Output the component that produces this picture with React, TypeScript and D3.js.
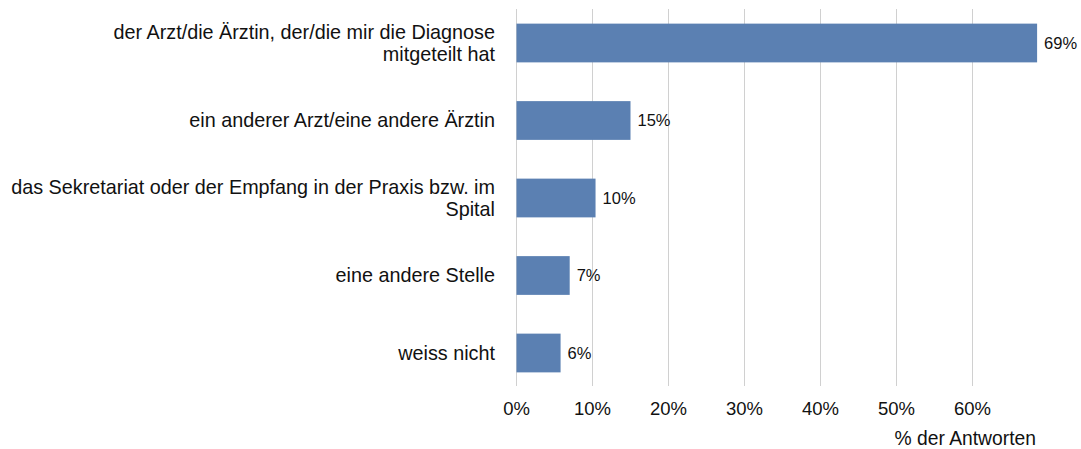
import * as d3 from "d3";
import {useEffect, useRef} from "react";

const categories = [
    "der Arzt/die Ärztin, der/die mir die Diagnose\nmitgeteilt hat",
    "ein anderer Arzt/eine andere Ärztin",
    "das Sekretariat oder der Empfang in der Praxis bzw. im\nSpital",
    "eine andere Stelle",
    "weiss nicht"
]
const values = [68.5, 15, 10.4, 7, 5.8]
const valueLabels = ["69%", "15%", "10%", "7%", "6%"]
const ticks = [0, 10, 20, 30, 40, 50, 60]
const axisTitle = "% der Antworten"

const W = 1081
const H = 449

const App = () => {
    const ref = useRef<SVGSVGElement>(null)

    useEffect(() => {
        const svg = d3.select(ref.current)
        svg.selectAll("*").remove()

        const x = d3.scaleLinear().domain([0, 60]).range([516.5, 972.5])
        const y = d3.scaleBand().domain(categories).range([4.25, 391.75]).paddingInner(0.5).paddingOuter(0.25)

        const font = "Arial, 'Liberation Sans', sans-serif"

        // grid
        svg.append("g")
            .selectAll("line")
            .data(ticks)
            .enter()
            .append("line")
            .attr("x1", d => x(d))
            .attr("x2", d => x(d))
            .attr("y1", 9)
            .attr("y2", 386)
            .attr("stroke", "#d0d0d0")
            .attr("stroke-width", 1)

        // bars
        svg.append("g")
            .selectAll("rect")
            .data(values)
            .enter()
            .append("rect")
            .attr("x", x(0))
            .attr("y", (d, i) => y(categories[i]))
            .attr("width", d => x(d) - x(0))
            .attr("height", y.bandwidth())
            .attr("fill", "#5b80b2")

        // value labels
        svg.append("g")
            .selectAll("text")
            .data(values)
            .enter()
            .append("text")
            .attr("x", d => x(d) + 7)
            .attr("y", (d, i) => y(categories[i]) + y.bandwidth() / 2)
            .attr("dy", "0.35em")
            .attr("font-family", font)
            .attr("font-size", 16.5)
            .attr("fill", "#111")
            .text((d, i) => valueLabels[i])

        // category labels
        const cat = svg.append("g")
            .selectAll("text")
            .data(categories)
            .enter()
            .append("text")
            .attr("x", 495)
            .attr("y", d => y(d) + y.bandwidth() / 2)
            .attr("text-anchor", "end")
            .attr("font-family", font)
            .attr("font-size", 19.8)
            .attr("fill", "#111")

        cat.each(function (d) {
            const lines = d.split("\n")
            const t = d3.select(this)
            lines.forEach((l, i) => {
                t.append("tspan")
                    .attr("x", 495)
                    .attr("dy", i === 0 ? (0.35 - (lines.length - 1) * 0.555) + "em" : "1.11em")
                    .text(l)
            })
        })

        // tick labels
        svg.append("g")
            .selectAll("text")
            .data(ticks)
            .enter()
            .append("text")
            .attr("x", d => x(d))
            .attr("y", 409)
            .attr("dy", "0.35em")
            .attr("text-anchor", "middle")
            .attr("font-family", font)
            .attr("font-size", 18.5)
            .attr("fill", "#111")
            .text(d => d + "%")

        svg.append("text")
            .attr("x", 1036)
            .attr("y", 438)
            .attr("dy", "0.35em")
            .attr("text-anchor", "end")
            .attr("font-family", font)
            .attr("font-size", 19.3)
            .attr("fill", "#111")
            .text(axisTitle)
    }, [])

    return (
        <svg ref={ref} width={W} height={H} style={{display: "block", position: "absolute", left: 0, top: 0, background: "#fff"}}/>
    )
}

export default App
